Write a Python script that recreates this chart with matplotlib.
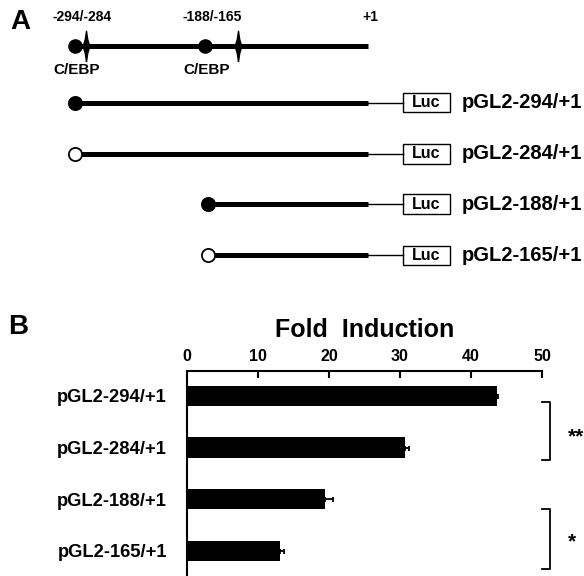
import matplotlib
matplotlib.use("Agg")
import matplotlib.pyplot as plt
from matplotlib.patches import Rectangle
from matplotlib.path import Path

plt.rcParams['font.family'] = ['Liberation Sans', 'DejaVu Sans']
plt.rcParams['font.weight'] = 'bold'
plt.rcParams['axes.labelweight'] = 'bold'

# panel B data
constructs = ["pGL2-294/+1", "pGL2-284/+1", "pGL2-188/+1", "pGL2-165/+1"]
fold = [43.6, 30.7, 19.5, 13.1]
err = [0.25, 0.55, 1.05, 0.55]
xticks = [0, 10, 20, 30, 40, 50]

# panel A schematic (bp positions, drawn roughly to scale)
site_pos = [-293, -163]
site_labels = ["-294/-284", "-188/-165"]
mark_pos = [-282, -130]
start_pos = [-293, -293, -160, -160]
site_intact = [True, False, True, False]
row_y = [104, 156, 207, 259]

fig = plt.figure(figsize=(5.84, 5.76), dpi=100)

# ---- panel A ----
axa = fig.add_axes([0, 290 / 576, 1, 1 - 290 / 576])
axa.set_xlim(-368, 216)
axa.set_ylim(290, 0)
axa.axis("off")

lens = Path([(0, -1), (0.08, -0.45), (0.22, 0), (0.08, 0.45), (0, 1),
             (-0.08, 0.45), (-0.22, 0), (-0.08, -0.45), (0, -1)])

axa.plot([-293, 0], [47, 47], color="black", lw=3.6, solid_capstyle="butt")
axa.plot(site_pos, [47, 47], "o", color="black", ms=9.5)
axa.plot(mark_pos, [47, 47], marker=lens, ls="none", color="black", ms=22)
for x, lab in zip(site_pos, site_labels):
    axa.text(x + 7, 17, lab, ha="center", va="center", fontsize=10)
    axa.text(x + 2, 71, "C/EBP", ha="center", va="center", fontsize=11)
axa.text(2, 17, "+1", ha="center", va="center", fontsize=10)

for s, intact, y, name in zip(start_pos, site_intact, row_y, constructs):
    axa.plot([s, 0], [y, y], color="black", lw=3.6, solid_capstyle="butt")
    axa.plot([0, 35], [y, y], color="black", lw=1.0)
    axa.plot(s, y, "o", ms=9.5, mec="black", mew=1.3,
             mfc="black" if intact else "white")
    axa.add_patch(Rectangle((35, y - 10), 47, 20, fc="white", ec="black", lw=1.0))
    axa.text(58.5, y, "Luc", ha="center", va="center", fontsize=11.5)
    axa.text(94, y, name, ha="left", va="center", fontsize=14.5)

fig.text(20 / 584, 1 - 22 / 576, "A", ha="center", va="center", fontsize=20)
fig.text(18.5 / 584, 1 - 327 / 576, "B", ha="center", va="center", fontsize=20)

# ---- panel B ----
axb = fig.add_axes([187 / 584, -0.02, 355 / 584, 1 - 371 / 576 + 0.02])
ypos = list(range(len(fold)))
axb.barh(ypos, fold, height=0.39, color="black",
         xerr=[[0] * len(err), err], error_kw=dict(ecolor="black", elinewidth=1.3, capsize=1.8, capthick=1.3))
axb.set_xlim(0, 50)
axb.set_ylim(3.713, -0.484)
axb.set_xticks(xticks)
axb.xaxis.tick_top()
axb.xaxis.set_label_position("top")
axb.tick_params(axis="x", direction="in", length=5, width=1.5, labelsize=11.5, pad=5)
axb.set_yticks(ypos)
axb.set_yticklabels(constructs, fontsize=13.2)
axb.tick_params(axis="y", length=0, pad=14.4)
axb.spines["right"].set_visible(False)
axb.spines["bottom"].set_visible(False)
axb.spines["top"].set_linewidth(1.5)
axb.spines["left"].set_linewidth(1.5)
axb.set_xlabel("Fold  Induction", fontsize=18, labelpad=9)

# significance brackets
for y0, y1, star, sx, sy in [(0.11, 1.25, "**", 53.7, 0.79), (2.2, 3.35, "*", 53.7, 2.82)]:
    axb.plot([50.0, 51.1, 51.1, 50.0], [y0, y0, y1, y1], color="black", lw=1.3, clip_on=False)
    axb.text(sx, sy, star, ha="left", va="center", fontsize=15, clip_on=False)

fig.savefig("out.png", dpi=100)
